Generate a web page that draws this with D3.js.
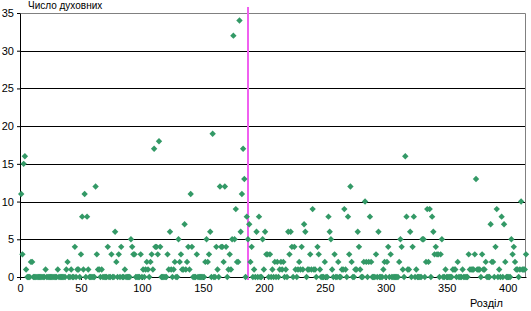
<!DOCTYPE html>
<html lang="uk">

<head>
    <meta charset="UTF-8">
    <title>Число духовних</title>
    <style>
        body { margin: 0; background: #fff; }
        text { font-family: "Liberation Sans", Arial, sans-serif; fill: #000; }
    </style>
</head>

<body>
    <svg id="chart" width="531" height="311"></svg>

    <script src="https://cdn.jsdelivr.net/npm/d3@7"></script>

    <script>
        // number of clergy per chapter
        var chapters1to100 = [
            11, 3, 15, 16, 1, 0, 0, 0, 2, 2,
            0, 0, 0, 0, 0, 0, 0, 0, 0, 0,
            1, 0, 0, 0, 0, 0, 0, 0, 0, 0,
            1, 0, 0, 0, 0, 0, 0, 1, 2, 0,
            0, 1, 0, 0, 4, 0, 1, 1, 0, 3,
            8, 1, 11, 0, 8, 1, 0, 0, 0, 0,
            0, 12, 3, 1, 1, 0, 1, 0, 0, 0,
            0, 4, 0, 0, 3, 0, 0, 6, 2, 0,
            3, 0, 4, 0, 0, 1, 0, 0, 0, 0,
            5, 4, 3, 3, 0, 0, 0, 0, 3, 0
        ];
        var chapters101to200 = [
            1, 0, 1, 2, 1, 0, 2, 3, 1, 17,
            4, 4, 3, 18, 4, 0, 0, 0, 0, 0,
            3, 1, 6, 1, 0, 1, 2, 0, 0, 5,
            2, 3, 1, 1, 7, 1, 2, 4, 1, 11,
            4, 0, 0, 0, 3, 0, 0, 0, 0, 0,
            0, 2, 5, 2, 3, 6, 0, 19, 0, 0,
            4, 1, 0, 12, 4, 4, 2, 12, 4, 0,
            1, 3, 1, 5, 32, 5, 9, 2, 2, 34,
            6, 11, 17, 13, 0, 8, 5, 7, 2, 4,
            0, 1, 0, 6, 0, 8, 0, 0, 5, 1
        ];
        var chapters201to300 = [
            6, 3, 3, 0, 3, 0, 1, 0, 2, 0,
            2, 0, 1, 2, 1, 2, 0, 1, 0, 6,
            3, 6, 4, 0, 4, 1, 0, 1, 2, 1,
            4, 1, 7, 6, 0, 1, 1, 3, 1, 9,
            1, 1, 0, 4, 3, 1, 0, 0, 0, 2,
            0, 0, 8, 6, 5, 1, 0, 3, 0, 0,
            2, 0, 0, 1, 1, 9, 1, 0, 8, 3,
            12, 2, 0, 0, 1, 1, 6, 4, 1, 0,
            0, 2, 10, 2, 0, 2, 8, 2, 0, 0,
            0, 3, 0, 6, 0, 0, 0, 1, 2, 0
        ];
        var chapters301to415 = [
            2, 4, 0, 3, 0, 0, 0, 0, 0, 0,
            2, 5, 4, 1, 0, 16, 8, 1, 1, 6,
            0, 4, 8, 0, 1, 0, 0, 0, 0, 5,
            5, 0, 2, 9, 2, 9, 0, 8, 6, 3,
            4, 3, 3, 0, 3, 5, 0, 0, 1, 0,
            0, 0, 0, 0, 1, 1, 1, 0, 2, 0,
            0, 0, 1, 0, 0, 0, 0, 3, 1, 1,
            1, 1, 3, 13, 1, 1, 1, 0, 3, 1,
            1, 2, 0, 0, 0, 7, 2, 2, 0, 4,
            9, 0, 1, 0, 8, 0, 7, 2, 0, 0,
            0, 0, 5, 3, 4, 2, 1, 1, 0, 1,
            10, 1, 1, 1, 3
        ];

        var xTicks = [0, 50, 100, 150, 200, 250, 300, 350, 400];
        var yTicks = [0, 5, 10, 15, 20, 25, 30, 35];
        var xMax = 415;
        var markerChapter = 187;

        var values = chapters1to100.concat(chapters101to200, chapters201to300, chapters301to415);
        var data = values.map(function (v, i) { return { chapter: i + 1, count: v }; });

        var margin = { top: 13, right: 5, bottom: 34, left: 20 },
            width = 531 - margin.left - margin.right,
            height = 311 - margin.top - margin.bottom;

        var svg = d3.select("#chart")
            .append("g")
            .attr("transform", "translate(" + margin.left + "," + margin.top + ")");

        var x = d3.scaleLinear().domain([0, xMax]).range([0, width]);
        var y = d3.scaleLinear().domain([0, 35]).range([height, 0]);

        // gridlines
        svg.append("g")
            .selectAll("line")
            .data(yTicks.filter(function (t) { return t > 0 && t < 35; }))
            .enter().append("line")
            .attr("x1", 0)
            .attr("x2", width)
            .attr("y1", function (d) { return Math.round(y(d)) + 0.5; })
            .attr("y2", function (d) { return Math.round(y(d)) + 0.5; })
            .attr("stroke", "#000")
            .attr("stroke-width", 1);

        // plot area border (top, right)
        svg.append("path")
            .attr("d", "M0,0.5H" + (width - 0.5) + "V" + height)
            .attr("fill", "none")
            .attr("stroke", "#808080")
            .attr("stroke-width", 1);

        // Y axis
        var yAxis = svg.append("g")
            .call(d3.axisLeft(y).tickValues(yTicks).tickSize(3).tickSizeOuter(0).tickPadding(3));
        yAxis.select(".domain").attr("stroke", "#000");
        yAxis.selectAll("text").style("font-size", "11px");

        // X axis
        var xAxis = svg.append("g")
            .attr("transform", "translate(0," + height + ")")
            .call(d3.axisBottom(x).tickValues(xTicks).tickSize(3).tickSizeOuter(0).tickPadding(4));
        xAxis.select(".domain").attr("stroke", "#000");
        xAxis.selectAll("text").style("font-size", "11px");

        // magenta line
        svg.append("line")
            .attr("x1", x(markerChapter))
            .attr("x2", x(markerChapter))
            .attr("y1", -6)
            .attr("y2", height + 3)
            .attr("stroke", "#f060f0")
            .attr("stroke-width", 2);

        // diamonds
        svg.append("g")
            .selectAll("path")
            .data(data)
            .enter().append("path")
            .attr("d", "M0,-3.2L3.2,0L0,3.2L-3.2,0Z")
            .attr("transform", function (d) { return "translate(" + x(d.chapter) + "," + y(d.count) + ")"; })
            .attr("fill", "#339966");

        svg.append("text")
            .attr("x", 8)
            .attr("y", -4)
            .style("font-size", "10px")
            .text("Число духовних");

        svg.append("text")
            .attr("x", 450)
            .attr("y", height + 30)
            .style("font-size", "11px")
            .text("Розділ");
    </script>
</body>

</html>
